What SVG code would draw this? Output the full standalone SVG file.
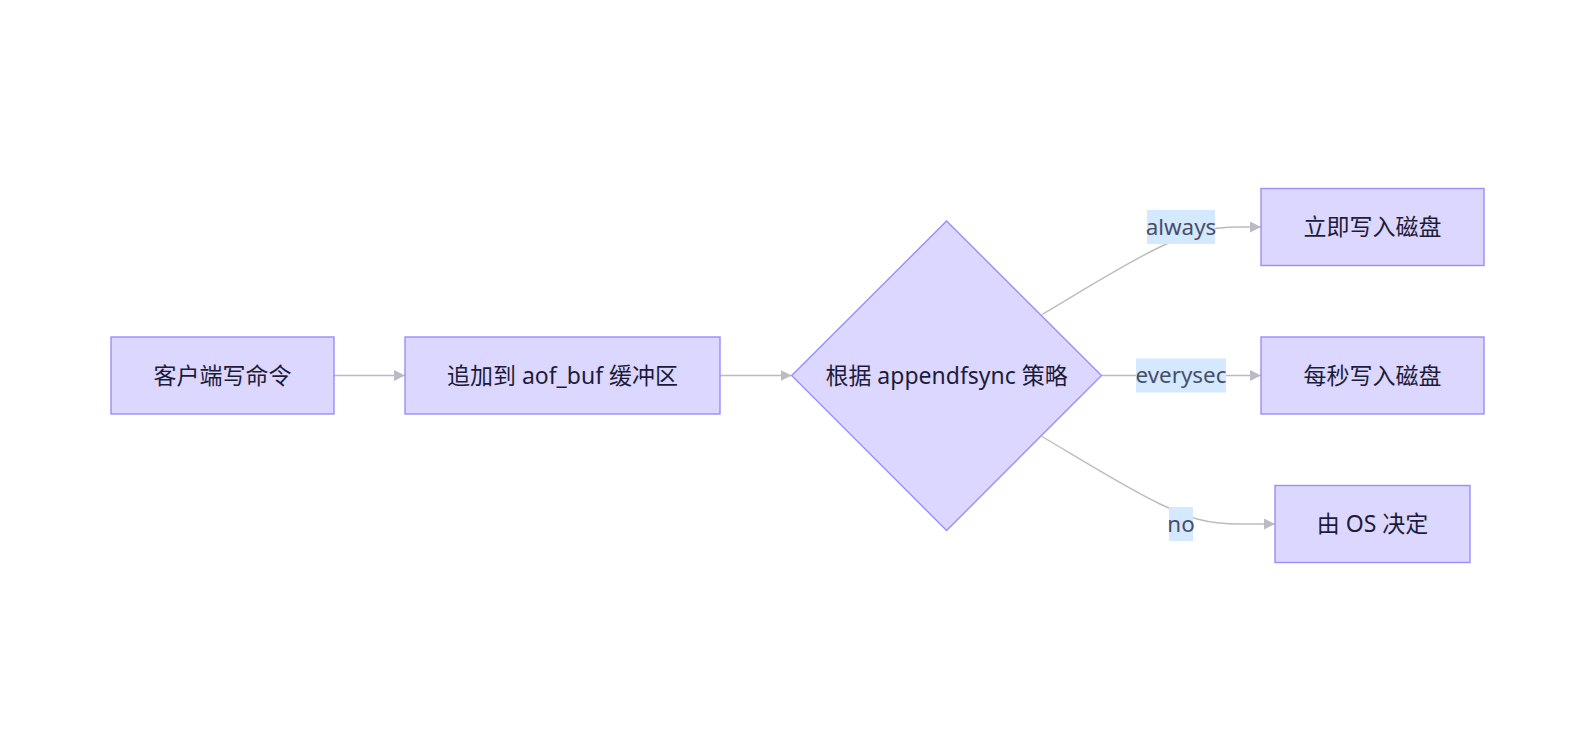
<svg xmlns="http://www.w3.org/2000/svg" width="1596" height="752" viewBox="0 0 1596 752">
<style>
.node{fill:#dcd7fe;stroke:#9a8ef8;stroke-width:1.4}
.nt{font-family:"Noto Sans","Noto Sans CJK SC",sans-serif;font-size:23px;fill:#1c1c3a;text-anchor:middle}
.edge{fill:none;stroke:#bbbbc3;stroke-width:1.4}
.lb{fill:#d4e8ff}
.lt{font-family:"Noto Sans","Noto Sans CJK SC",sans-serif;font-size:22.4px;fill:#474e68;text-anchor:middle}
</style>
<defs>
<marker id="arr" viewBox="0 0 10 10" refX="10" refY="5" markerUnits="userSpaceOnUse" markerWidth="11" markerHeight="11" orient="auto">
<path d="M0,0 L10,5 L0,10 z" fill="#bbbbc3"/>
</marker>
</defs>
<rect width="1596" height="752" fill="#ffffff"/>
<g id="edges">
<path class="edge" d="M334,375.5 L405,375.5" marker-end="url(#arr)"/>
<path class="edge" d="M720,375.5 L791.5,375.5" marker-end="url(#arr)"/>
<path class="edge" d="M1101.5,375.5 L1261,375.5" marker-end="url(#arr)"/>
<path class="edge" d="M1042,314.5 C1085,289 1128,262 1160,247 C1190,233 1205,227 1240,227 L1261,227" marker-end="url(#arr)"/>
<path class="edge" d="M1042,436.5 C1085,462 1128,489 1160,504 C1190,518 1205,524 1240,524 L1275,524" marker-end="url(#arr)"/>
</g>
<g id="label-always"><rect class="lb" x="1147" y="210" width="68" height="34"/><text class="lt" x="1181" y="234.5">always</text></g>
<g id="label-everysec"><rect class="lb" x="1136" y="358.5" width="90" height="34"/><text class="lt" x="1181" y="383">everysec</text></g>
<g id="label-no"><rect class="lb" x="1169" y="507" width="24" height="34"/><text class="lt" x="1181" y="531.5">no</text></g>
<g id="A"><rect class="node" x="111" y="337" width="223" height="77"/><text class="nt" x="222.5" y="383.5">客户端写命令</text></g>
<g id="B"><rect class="node" x="405" y="337" width="315" height="77"/><text class="nt" x="562.5" y="383.5">追加到 aof_buf 缓冲区</text></g>
<g id="C"><polygon class="node" points="946.6,221 1101.5,375.5 946.6,530.5 791.7,375.5"/><text class="nt" x="946.6" y="383.5">根据 appendfsync 策略</text></g>
<g id="D"><rect class="node" x="1261" y="188.5" width="223" height="77"/><text class="nt" x="1372.5" y="235">立即写入磁盘</text></g>
<g id="E"><rect class="node" x="1261" y="337" width="223" height="77"/><text class="nt" x="1372.5" y="383.5">每秒写入磁盘</text></g>
<g id="F"><rect class="node" x="1275" y="485.5" width="195" height="77"/><text class="nt" x="1372.5" y="532">由 OS 决定</text></g>
</svg>
